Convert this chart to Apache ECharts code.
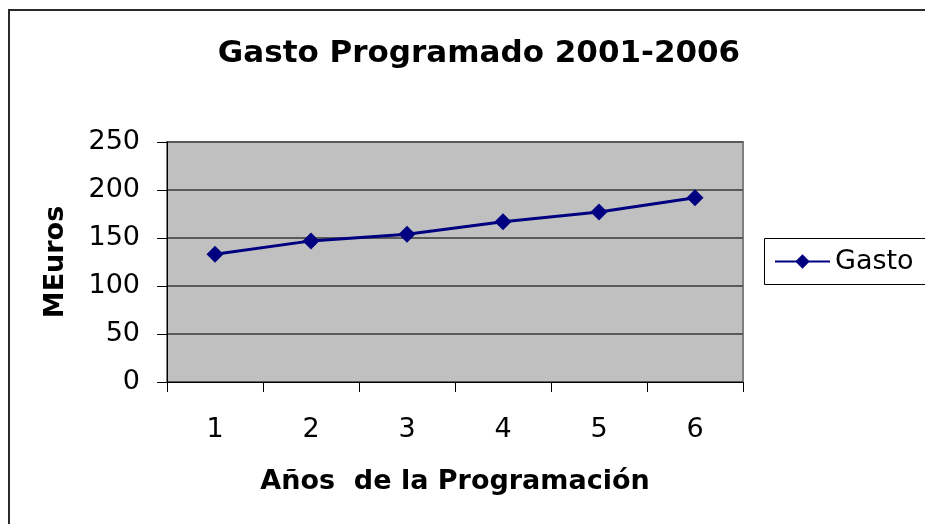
<!DOCTYPE html>
<html>
<head>
<meta charset="utf-8">
<title>Gasto Programado 2001-2006</title>
<script src="https://cdn.jsdelivr.net/npm/echarts@6/dist/echarts.min.js"></script>
<style>
    html,body{margin:0;padding:0;background:#fff;overflow:hidden;}
    #main{width:925px;height:524px;}
</style>
</head>
<body>
<div id="main"></div>
<script>
// datos del grafico
var years = ['1', '2', '3', '4', '5', '6'];
var gasto = [133, 147, 154, 167, 177, 192];
var yTicks = [0, 50, 100, 150, 200, 250];

var FONT = 'DejaVu Sans';

var chart = echarts.init(document.getElementById('main'));

chart.setOption({
    animation: false,
    backgroundColor: '#ffffff',
    textStyle: {fontFamily: FONT, color: '#000'},
    title: {
        text: 'Gasto Programado 2001-2006',
        left: 474,
        textAlign: 'center',
        top: 33,
        textStyle: {fontFamily: FONT, fontSize: 31, fontWeight: 'bold', color: '#000'}
    },
    legend: {
        left: 764,
        top: 238,
        padding: [10, 10, 10, 10],
        itemWidth: 55,
        itemHeight: 18,
        itemGap: 8,
        data: ['Gasto'],
        textStyle: {fontFamily: FONT, fontSize: 27, color: '#000'}
    },
    // marco exterior y caja de la leyenda, ambos cortados por el borde derecho
    graphic: [{
        type: 'line',
        shape: {x1: 9, y1: 10, x2: 9, y2: 530},
        style: {stroke: '#2a2a2a', lineWidth: 2},
        silent: true
    }, {
        type: 'line',
        shape: {x1: 8, y1: 10, x2: 930, y2: 10},
        style: {stroke: '#2a2a2a', lineWidth: 2},
        silent: true
    }, {
        type: 'polyline',
        shape: {points: [[930, 238.5], [764.5, 238.5], [764.5, 284.5], [930, 284.5]]},
        style: {fill: null, stroke: '#000', lineWidth: 1},
        silent: true
    }],
    grid: {
        left: 167,
        top: 142,
        right: 182,
        bottom: 142,
        show: true,
        backgroundColor: '#c0c0c0',
        borderColor: '#808080',
        borderWidth: 2
    },
    xAxis: {
        type: 'category',
        data: years,
        boundaryGap: true,
        name: 'Años  de la Programación',
        nameLocation: 'middle',
        nameGap: 86,
        nameTextStyle: {fontFamily: FONT, fontSize: 27, fontWeight: 'bold', color: '#000'},
        axisLine: {lineStyle: {color: '#000', width: 1}},
        axisTick: {show: true, length: 10, lineStyle: {color: '#000'}},
        axisLabel: {margin: 34, fontFamily: FONT, fontSize: 27, color: '#000'},
        splitLine: {show: false}
    },
    yAxis: {
        type: 'value',
        min: yTicks[0],
        max: yTicks[yTicks.length - 1],
        interval: yTicks[1] - yTicks[0],
        name: 'MEuros',
        nameLocation: 'middle',
        nameGap: 98,
        nameTextStyle: {fontFamily: FONT, fontSize: 27, fontWeight: 'bold', color: '#000'},
        axisLine: {show: true, lineStyle: {color: '#000', width: 1}},
        axisTick: {show: true, length: 10, lineStyle: {color: '#000'}},
        axisLabel: {margin: 27, fontFamily: FONT, fontSize: 27, color: '#000'},
        splitLine: {show: true, lineStyle: {color: '#5a5a5a', width: 2}}
    },
    series: [{
        name: 'Gasto',
        type: 'line',
        data: gasto,
        symbol: 'diamond',
        symbolSize: 17,
        lineStyle: {color: '#000080', width: 3},
        itemStyle: {color: '#000080'}
    }]
});
</script>
</body>
</html>
